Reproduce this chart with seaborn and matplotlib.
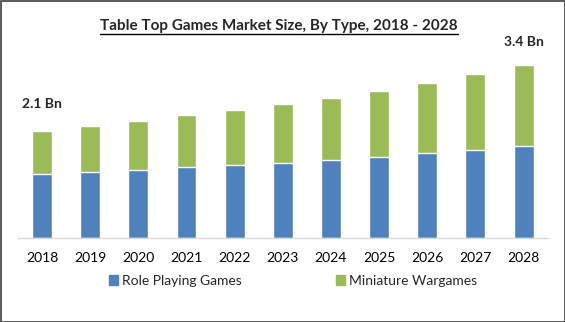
import matplotlib
matplotlib.use("Agg")
import matplotlib.pyplot as plt
import matplotlib.patches as mpatches
from matplotlib.lines import Line2D
import seaborn as sns
import pandas as pd

# Market size by segment (USD Bn)
years = ["2018", "2019", "2020", "2021", "2022", "2023", "2024", "2025", "2026", "2027", "2028"]
role_playing = [1.26, 1.30, 1.34, 1.39, 1.43, 1.47, 1.53, 1.59, 1.67, 1.73, 1.81]
miniature = [0.84, 0.90, 0.96, 1.03, 1.08, 1.16, 1.22, 1.30, 1.38, 1.49, 1.59]
series_names = ["Role Playing Games", "Miniature Wargames"]
value_labels = {0: "2.1 Bn", 10: "3.4 Bn"}

BLUE = "#4F81BD"
GREEN = "#9BBB59"
FONT = "Lato"

sns.set_style("white")
plt.rcParams["font.family"] = [FONT, "DejaVu Sans"]

df = pd.DataFrame({"year": years, "rpg": role_playing, "mini": miniature})
df["total"] = df["rpg"] + df["mini"]

fig = plt.figure(figsize=(5.65, 3.22), dpi=100)
ax = fig.add_axes([18 / 565, 84 / 322, 529.6 / 565, 198 / 322])

# Stacked bars: full total in green, role-playing segment in blue on top of it
sns.barplot(data=df, x="year", y="total", color=GREEN, width=0.415,
            saturation=1, ax=ax)
sns.barplot(data=df, x="year", y="rpg", color=BLUE, width=0.415,
            saturation=1, ax=ax)

ax.set_xlim(-0.5, len(years) - 0.5)
ax.set_ylim(0, 198 / 50.9)
ax.set_xlabel("")
ax.set_ylabel("")
ax.set_yticks([])
for side in ["left", "right", "top"]:
    ax.spines[side].set_visible(False)
ax.spines["bottom"].set_color("#D9D9D9")
ax.spines["bottom"].set_linewidth(1.0)
ax.tick_params(axis="x", length=0, pad=10, labelsize=10, colors="#000000")

offsets = {0: 15, 10: 12}
for i, text in value_labels.items():
    ax.annotate(text, xy=(i, df["total"][i]), xytext=(0, offsets[i]),
                textcoords="offset points", ha="center", va="bottom",
                fontsize=10, fontweight="bold", annotation_clip=False)

handles = [mpatches.Patch(color=BLUE, label=series_names[0]),
           mpatches.Patch(color=GREEN, label=series_names[1])]
fig.legend(handles=handles, loc="center", bbox_to_anchor=(293 / 565, 1 - 281 / 322),
           ncol=2, frameon=False, fontsize=10, handlelength=0.65,
           handleheight=0.65, handletextpad=0.25, columnspacing=6.8,
           borderpad=0, borderaxespad=0)

title = fig.text(279 / 565, 1 - 26 / 322,
                 "Table Top Games Market Size, By Type, 2018 - 2028",
                 ha="center", va="center", fontsize=11, fontweight="bold")

# underline the title
fig.canvas.draw()
bb = title.get_window_extent(renderer=fig.canvas.get_renderer())
uy = (bb.y0 - 0.5) / fig.bbox.height
fig.add_artist(Line2D([bb.x0 / fig.bbox.width, bb.x1 / fig.bbox.width], [uy, uy],
                      transform=fig.transFigure, color="black", linewidth=1.0))

# outer frame
fig.add_artist(mpatches.Rectangle((0.5 / 565, 0.5 / 322), 1 - 1 / 565, 1 - 1 / 322,
                                  transform=fig.transFigure, fill=False,
                                  edgecolor="#404040", linewidth=1.2))

fig.savefig("out.png", dpi=100)
